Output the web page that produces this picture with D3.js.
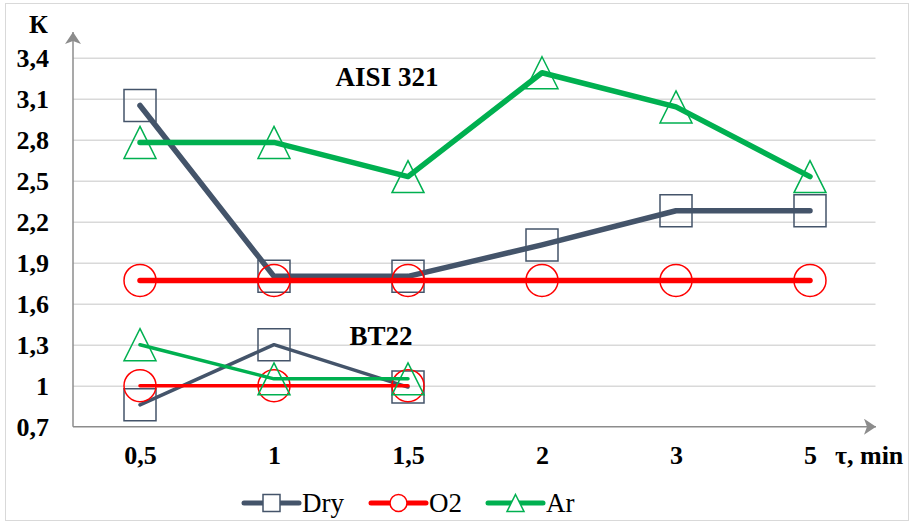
<!DOCTYPE html>
<html><head><meta charset="utf-8">
<script src="https://cdn.jsdelivr.net/npm/d3@7"></script>
<style>
html,body{margin:0;padding:0;background:#fff;}
svg{display:block;}
</style></head>
<body><svg id="c" width="909" height="524"></svg>
<script>
const categories = ["0,5","1","1,5","2","3","5"];
const btCategories = ["0,5","1","1,5"];
const aisiDry = [3.05, 1.80, 1.80, 2.03, 2.28, 2.28];
const aisiO2  = [1.77, 1.77, 1.77, 1.77, 1.77, 1.77];
const aisiAr  = [2.78, 2.78, 2.53, 3.29, 3.04, 2.53];
const bt22Dry = [0.86, 1.30, 0.99];
const bt22O2  = [1.00, 1.00, 1.00];
const bt22Ar  = [1.30, 1.05, 1.05];
const yTicks = [0.7, 1.0, 1.3, 1.6, 1.9, 2.2, 2.5, 2.8, 3.1, 3.4];
const yTickLabels = ["0,7","1","1,3","1,6","1,9","2,2","2,5","2,8","3,1","3,4"];
const seriesNames = ["Dry","O2","Ar"];
const colors = {Dry:"#44546A", O2:"#FF0000", Ar:"#00B050"};
const shapes = {Dry:"square", O2:"circle", Ar:"triangle"};
const FONT = '"Liberation Serif","Times New Roman",serif';

const svg = d3.select("#c");
const L = 73, R = 877, T = 57.7, B = 426.7;
const x = d3.scalePoint().domain(categories).range([L, R]).padding(0.5);
const y = d3.scaleLinear().domain([0.7, 3.4]).range([B, T]);

// frame
svg.append("rect").attr("x",5.5).attr("y",3.5).attr("width",903).attr("height",517)
  .attr("fill","#fff").attr("stroke","#D9D9D9").attr("stroke-width",1);

// gridlines
const grid = d3.axisLeft(y).tickValues(yTicks.slice(1)).tickSize(-(875.5 - L)).tickFormat("");
svg.append("g").attr("transform",`translate(${L},0)`).call(grid)
  .call(g=>g.select(".domain").remove())
  .call(g=>g.selectAll("line").attr("stroke","#D9D9D9").attr("stroke-width",1.5));

// y tick labels
const yAxis = d3.axisLeft(y).tickValues(yTicks).tickSize(0).tickPadding(0)
  .tickFormat((d,i)=>yTickLabels[i]);
svg.append("g").attr("transform","translate(49,0)").call(yAxis)
  .call(g=>g.select(".domain").remove())
  .call(g=>g.selectAll("text").attr("font-size",26).attr("font-weight","bold")
    .style("font-family",FONT).attr("fill","#000").attr("dy","0.33em"));

// x tick labels
const xAxis = d3.axisBottom(x).tickSize(0).tickPadding(0);
svg.append("g").attr("transform","translate(0,446)").call(xAxis)
  .call(g=>g.select(".domain").remove())
  .call(g=>g.selectAll("text").attr("font-size",26).attr("font-weight","bold")
    .style("font-family",FONT).attr("fill","#000").attr("dy","0.71em"));

// axes with arrows
const defs = svg.append("defs");
defs.append("marker").attr("id","arr").attr("viewBox","0 0 12 16").attr("refX",12).attr("refY",8)
  .attr("markerWidth",12).attr("markerHeight",16).attr("markerUnits","userSpaceOnUse")
  .attr("orient","auto")
  .append("path").attr("d","M0,0 L12,8 L0,16 L3,8 Z").attr("fill","#8C8C8C");
svg.append("line").attr("x1",L).attr("y1",B).attr("x2",L).attr("y2",32)
  .attr("stroke","#8C8C8C").attr("stroke-width",1.5).attr("marker-end","url(#arr)");
svg.append("line").attr("x1",L).attr("y1",B).attr("x2",876).attr("y2",B)
  .attr("stroke","#8C8C8C").attr("stroke-width",1.5).attr("marker-end","url(#arr)");

function markerPath(shape, size){
  const h = size/2;
  if(shape==="square") return `M${-h},${-h}H${h}V${h}H${-h}Z`;
  if(shape==="circle") return d3.arc()({innerRadius:0,outerRadius:h,startAngle:0,endAngle:2*Math.PI});
  return `M0,${-h}L${h},${h}L${-h},${h}Z`;
}

function drawSeries(cats, vals, name, lw){
  const g = svg.append("g");
  const data = cats.map((c,i)=>({c, v: vals[i]}));
  const line = d3.line().x(d=>x(d.c)).y(d=>y(d.v));
  g.append("path").datum(data).attr("d",line).attr("fill","none")
    .attr("stroke",colors[name]).attr("stroke-width",lw)
    .attr("stroke-linecap","round").attr("stroke-linejoin","round");
  g.selectAll("path.m").data(data).join("path").attr("class","m")
    .attr("transform",d=>`translate(${x(d.c)},${y(d.v)})`)
    .attr("d",markerPath(shapes[name],32))
    .attr("fill","none").attr("stroke",colors[name]).attr("stroke-width",1.5);
}

drawSeries(btCategories, bt22Dry, "Dry", 3.5);
drawSeries(btCategories, bt22O2, "O2", 3.5);
drawSeries(btCategories, bt22Ar, "Ar", 3.5);
drawSeries(categories, aisiDry, "Dry", 5.5);
drawSeries(categories, aisiO2, "O2", 5.5);
drawSeries(categories, aisiAr, "Ar", 5.5);

// labels
const bold = sel=>sel.attr("font-weight","bold").attr("fill","#000").style("font-family",FONT);
svg.append("text").attr("x",387).attr("y",86).attr("text-anchor","middle").attr("font-size",27).text("AISI 321").call(bold);
svg.append("text").attr("x",381).attr("y",345).attr("text-anchor","middle").attr("font-size",27).text("BT22").call(bold);
svg.append("text").attr("x",29).attr("y",33).attr("font-size",26).text("К").call(bold);
svg.append("text").attr("x",835).attr("y",464).attr("font-size",26).text("τ, min").call(bold);

// legend
const legendX = [244, 371, 488];
seriesNames.forEach((name,i)=>{
  const g = svg.append("g").attr("transform",`translate(${legendX[i]},503)`);
  g.append("line").attr("x1",0).attr("x2",55).attr("y1",0).attr("y2",0)
    .attr("stroke",colors[name]).attr("stroke-width",5).attr("stroke-linecap","round");
  g.append("path").attr("transform","translate(27.5,0)").attr("d",markerPath(shapes[name],17))
    .attr("fill","#fff").attr("stroke",colors[name]).attr("stroke-width",1.5);
  g.append("text").attr("x",58).attr("y",0).attr("font-size",27).attr("dy","0.33em")
    .style("font-family",FONT).attr("fill","#000").text(name);
});
</script></body></html>
